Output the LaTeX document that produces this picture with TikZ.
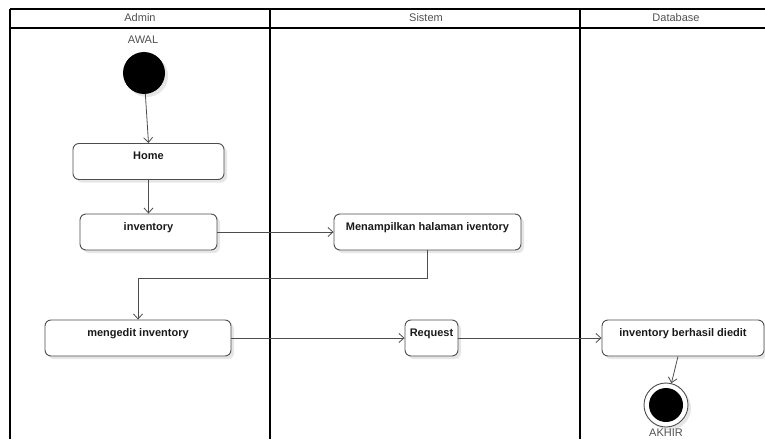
\documentclass[tikz,border=0pt]{standalone}
\usepackage{fontspec}
\setmainfont{Liberation Sans}
\usetikzlibrary{arrows.meta,shadows}
\definecolor{edge}{HTML}{4D4D4D}
\definecolor{ink}{HTML}{1A1A1A}
\definecolor{labelgrey}{HTML}{505050}
\definecolor{shade}{HTML}{E6E6E6}
\begin{document}
\begin{tikzpicture}[x=1pt,y=-1pt,
  font=\fontsize{11}{13}\selectfont,
  lane/.style={draw=black,line width=1.3pt},
  lanetitle/.style={text=labelgrey,inner sep=0pt},
  act/.style={draw=edge,line width=0.9pt,fill=white,rounded corners=6pt,
    inner sep=0pt,text height=16pt,text depth=20pt,text=ink,
    font=\fontsize{11}{13}\selectfont\bfseries,
    drop shadow={shadow xshift=3pt,shadow yshift=-3pt,fill=shade,opacity=1}},
  flow/.style={draw=edge,line width=0.8pt,-{Straight Barb[length=5pt,width=9pt]}},
]
\useasboundingbox (0,0) rectangle (765,439);

% swimlanes
\draw[lane] (10,9) -- (765,9);
\draw[lane] (10,28) -- (765,28);
\draw[lane] (10,9) -- (10,439);
\draw[lane] (270,9) -- (270,439);
\draw[lane] (580,9) -- (580,439);
\node[lanetitle] (tadmin) at (140,18) {Admin};
\node[lanetitle] (tsistem) at (426,18) {Sistem};
\node[lanetitle] (tdb) at (676,18) {Database};

% initial node
\node[lanetitle] (awal) at (143,40) {AWAL};
\node[circle,fill=black,minimum size=42pt,inner sep=0pt,
  drop shadow={shadow xshift=3pt,shadow yshift=-3pt,fill=shade,opacity=1}] (start) at (144,73) {};

% activities
\node[act,minimum width=151pt] (home) at (148.5,161.5) {Home};
\node[act,minimum width=137pt] (inv) at (148.5,232) {inventory};
\node[act,minimum width=187pt] (show) at (427.5,232) {Menampilkan halaman iventory};
\node[act,minimum width=186pt] (edit) at (138,338) {mengedit inventory};
\node[act,minimum width=53pt] (req) at (431.5,338) {Request};
\node[act,minimum width=162pt] (done) at (683,338) {inventory berhasil diedit};

% final node
\node[circle,draw=edge,line width=0.9pt,fill=white,minimum size=44pt,inner sep=0pt,
  drop shadow={shadow xshift=3pt,shadow yshift=-3pt,fill=shade,opacity=1}] (stop) at (666,405) {};
\node[circle,fill=black,minimum size=34pt,inner sep=0pt] (stopdot) at (stop) {};
\node[lanetitle] (akhir) at (666,433) {AKHIR};

% control flow
\draw[flow] (start) -- (home.north);
\draw[flow] (home.south) -- (inv.north);
\draw[flow] (inv.east) -- (show.west);
\coordinate (bend) at (427.5,278);
\draw[flow] (show.south) -- (bend) -| (edit.north);
\draw[flow] (edit.east) -- (req.west);
\draw[flow] (req.east) -- (done.west);
\draw[flow] ([xshift=-5pt]done.south) -- (stop);
\end{tikzpicture}
\end{document}
